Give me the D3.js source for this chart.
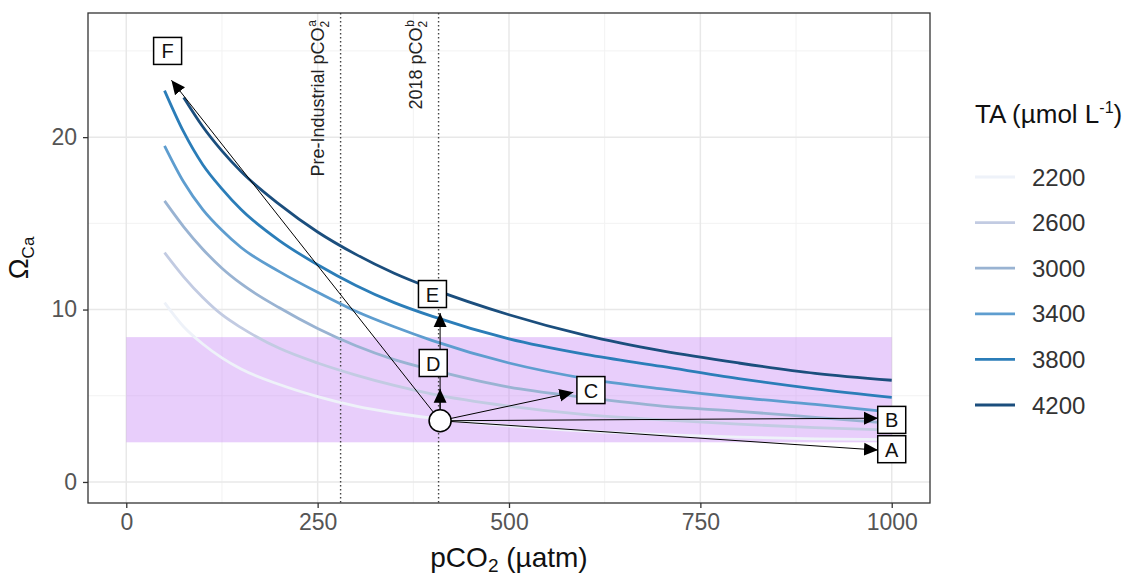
<!DOCTYPE html>
<html>
<head>
<meta charset="utf-8">
<script src="https://cdn.jsdelivr.net/npm/d3@7"></script>
<style>
  body { margin: 0; background: #fff; }
  text { font-family: "Liberation Sans", Arial, sans-serif; }
</style>
</head>
<body>
<svg id="chart" width="1147" height="578"></svg>
<script>
// data
var pco2 = [50, 75, 100, 125, 150, 200, 250, 300, 350, 400, 500, 600, 700, 800, 900, 1000];
var ta2200 = [10.4, 9.0, 8.0, 7.2, 6.55, 5.65, 4.95, 4.4, 4.0, 3.7, 3.25, 2.95, 2.75, 2.6, 2.5, 2.45];
var ta2600 = [13.3, 11.9, 10.7, 9.7, 8.95, 7.75, 6.9, 6.2, 5.6, 5.1, 4.4, 3.9, 3.6, 3.35, 3.15, 3.0];
var ta3000 = [16.3, 14.8, 13.5, 12.4, 11.5, 10.1, 8.9, 7.9, 7.1, 6.5, 5.5, 4.9, 4.4, 4.1, 3.75, 3.4];
var ta3400 = [19.5, 17.4, 15.8, 14.6, 13.6, 12.2, 11.0, 9.9, 9.0, 8.2, 6.9, 6.0, 5.4, 4.9, 4.5, 4.05];
var ta3800 = [22.7, 20.3, 18.4, 17.0, 15.8, 14.0, 12.6, 11.4, 10.4, 9.6, 8.3, 7.4, 6.7, 6.0, 5.4, 4.9];
var ta4200 = [null, 22.3, 20.6, 19.2, 18.0, 16.1, 14.5, 13.2, 12.1, 11.2, 9.7, 8.5, 7.6, 6.9, 6.3, 5.9];
var taLevels = ["2200", "2600", "3000", "3400", "3800", "4200"];
var taSeries = [ta2200, ta2600, ta3000, ta3400, ta3800, ta4200];

var xTicks = [0, 250, 500, 750, 1000];
var yTicks = [0, 10, 20];
var band = [0, 1000, 2.3, 8.4];           // x0, x1, y0, y1
var refLines = [280, 408];
var refNames = ["Pre-Industrial pCO", "2018 pCO"];
var refSups = ["a", "b"];

var start = [410, 3.55];
var arrowNames = ["A", "B", "C", "D", "E", "F"];
var arrowEnds = [[982, 1.85], [982, 3.7], [584, 5.2], [410, 5.4], [410, 9.8], [59, 23.3]];
var labelPos = [[1000, 1.9], [1000, 3.6], [607, 5.33], [401, 6.9], [400, 10.9], [54, 25.0]];

var svg = d3.select("#chart");
var x = d3.scaleLinear().domain([-50, 1050]).range([88, 930]);
var y = d3.scaleLinear().domain([-1.22, 27.2]).range([503, 13]);
var colour = d3.scaleOrdinal().domain(taLevels)
  .range(["#eef2f9", "#c2cbe2", "#99b3d2", "#5e9dcf", "#2b7db8", "#1b4e7d"]);

// grid
var g = svg.append("g");
g.append("rect").attr("x", 88).attr("y", 13).attr("width", 842).attr("height", 490).attr("fill", "#fff");
[125, 375, 625, 875].forEach(function (v) {
  g.append("line").attr("x1", x(v)).attr("x2", x(v)).attr("y1", 13).attr("y2", 503)
    .attr("stroke", "#f2f2f2").attr("stroke-width", 1);
});
[5, 15, 25].forEach(function (v) {
  g.append("line").attr("x1", 88).attr("x2", 930).attr("y1", y(v)).attr("y2", y(v))
    .attr("stroke", "#f2f2f2").attr("stroke-width", 1);
});
xTicks.forEach(function (v) {
  g.append("line").attr("x1", x(v)).attr("x2", x(v)).attr("y1", 13).attr("y2", 503)
    .attr("stroke", "#e8e8e8").attr("stroke-width", 1.5);
});
yTicks.forEach(function (v) {
  g.append("line").attr("x1", 88).attr("x2", 930).attr("y1", y(v)).attr("y2", y(v))
    .attr("stroke", "#e8e8e8").attr("stroke-width", 1.5);
});

// saturation band
g.append("rect")
  .attr("x", x(band[0])).attr("width", x(band[1]) - x(band[0]))
  .attr("y", y(band[3])).attr("height", y(band[2]) - y(band[3]))
  .attr("fill", "#c27ef5").attr("fill-opacity", 0.38);

// reference lines and their labels
refLines.forEach(function (v, i) {
  g.append("line").attr("x1", x(v)).attr("x2", x(v)).attr("y1", 13).attr("y2", 503)
    .attr("stroke", "#444").attr("stroke-width", 1.4).attr("stroke-dasharray", "1.4,2.6");
  var t = g.append("text")
    .attr("transform", "translate(" + (x(v) - 17) + ",20) rotate(-90)")
    .attr("text-anchor", "end").attr("font-size", 18).attr("fill", "#222");
  t.append("tspan").text(refNames[i]);
  t.append("tspan").attr("font-size", 12).attr("dy", 5).text("2");
  t.append("tspan").attr("font-size", 12).attr("dx", -6).attr("dy", -13).text(refSups[i]);
});

// curves
var line = d3.line()
  .defined(function (d) { return d[1] != null; })
  .x(function (d) { return x(d[0]); })
  .y(function (d) { return y(d[1]); })
  .curve(d3.curveMonotoneX);
taSeries.forEach(function (s, i) {
  g.append("path")
    .datum(pco2.map(function (p, j) { return [p, s[j]]; }))
    .attr("d", line)
    .attr("fill", "none")
    .attr("stroke", colour(taLevels[i]))
    .attr("stroke-width", 2.8);
});

// arrows
var defs = svg.append("defs");
defs.append("marker").attr("id", "head")
  .attr("markerUnits", "userSpaceOnUse")
  .attr("markerWidth", 14).attr("markerHeight", 14)
  .attr("viewBox", "0 0 13 12").attr("refX", 13).attr("refY", 6)
  .attr("orient", "auto")
  .append("path").attr("d", "M0,0 L13,6 L0,12 Z").attr("fill", "#000");

arrowEnds.forEach(function (e) {
  g.append("line")
    .attr("x1", x(start[0])).attr("y1", y(start[1]))
    .attr("x2", x(e[0])).attr("y2", y(e[1]))
    .attr("stroke", "#000").attr("stroke-width", 1)
    .attr("marker-end", "url(#head)");
});

g.append("circle").attr("cx", x(start[0])).attr("cy", y(start[1])).attr("r", 11)
  .attr("fill", "#fff").attr("stroke", "#000").attr("stroke-width", 1.6);

labelPos.forEach(function (p, i) {
  var lg = g.append("g").attr("transform", "translate(" + x(p[0]) + "," + y(p[1]) + ")");
  lg.append("rect").attr("x", -14).attr("y", -13.5).attr("width", 28).attr("height", 27)
    .attr("fill", "#fff").attr("stroke", "#000").attr("stroke-width", 1.5);
  lg.append("text").attr("text-anchor", "middle").attr("y", 7.5)
    .attr("font-size", 20).attr("fill", "#111").text(arrowNames[i]);
});

// panel border
g.append("rect").attr("x", 88).attr("y", 13).attr("width", 842).attr("height", 490)
  .attr("fill", "none").attr("stroke", "#333").attr("stroke-width", 1.3);

// axes
var xAxis = svg.append("g").attr("transform", "translate(0,503)")
  .call(d3.axisBottom(x).tickValues(xTicks).tickFormat(d3.format("d")).tickSize(5).tickPadding(6));
var yAxis = svg.append("g").attr("transform", "translate(88,0)")
  .call(d3.axisLeft(y).tickValues(yTicks).tickFormat(d3.format("d")).tickSize(5).tickPadding(6));
[xAxis, yAxis].forEach(function (a) {
  a.select(".domain").remove();
  a.selectAll(".tick line").attr("stroke", "#333").attr("stroke-width", 1.3);
  a.selectAll(".tick text").attr("font-size", 23).attr("fill", "#555")
    .attr("font-family", "Liberation Sans, Arial, sans-serif");
});

// axis titles
var xt = svg.append("text").attr("x", 509).attr("y", 567).attr("text-anchor", "middle")
  .attr("font-size", 28).attr("fill", "#111");
xt.append("tspan").text("pCO");
xt.append("tspan").attr("font-size", 19).attr("dy", 5).text("2");
xt.append("tspan").attr("dy", -5).text(" (µatm)");

var yt = svg.append("text").attr("transform", "translate(28,258) rotate(-90)")
  .attr("text-anchor", "middle").attr("font-size", 28).attr("fill", "#111");
yt.append("tspan").text("Ω");
yt.append("tspan").attr("font-size", 17).attr("dy", 6).text("Ca");

// legend
var lt = svg.append("text").attr("x", 975).attr("y", 123).attr("font-size", 26).attr("fill", "#111");
lt.append("tspan").text("TA (µmol L");
lt.append("tspan").attr("font-size", 16).attr("dy", -10).text("-1");
lt.append("tspan").attr("dy", 10).text(")");

taLevels.forEach(function (lv, i) {
  var ly = 177 + i * 45.6;
  svg.append("line").attr("x1", 975).attr("x2", 1015).attr("y1", ly).attr("y2", ly)
    .attr("stroke", colour(lv)).attr("stroke-width", 2.8);
  svg.append("text").attr("x", 1032).attr("y", ly).attr("dy", "0.36em")
    .attr("font-size", 24).attr("fill", "#333").text(lv);
});
</script>
</body>
</html>
